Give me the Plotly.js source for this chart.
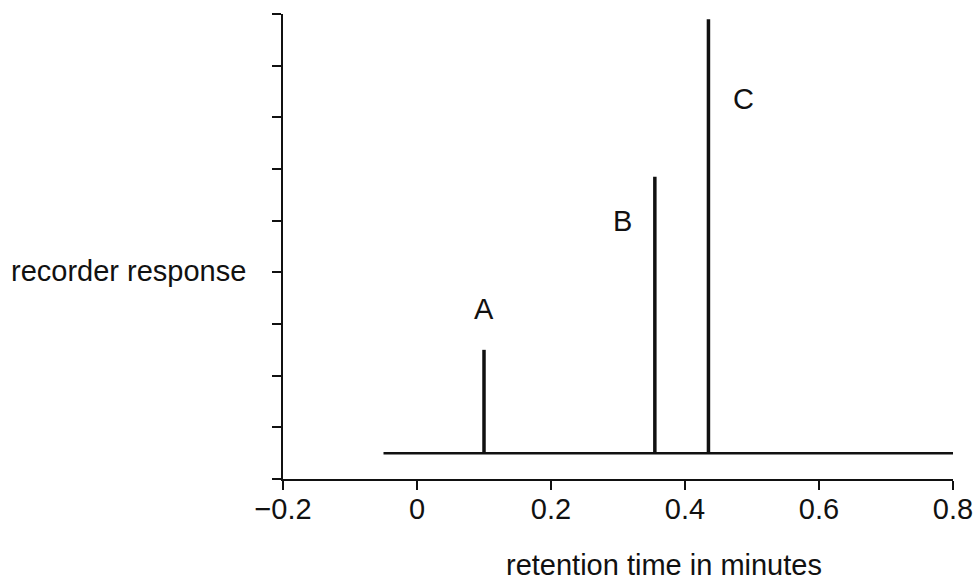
<!DOCTYPE html>
<html>
<head>
<meta charset="utf-8">
<script src="https://cdn.plot.ly/plotly-3.0.1.min.js"></script>
<style>html,body{margin:0;padding:0;background:#fff;}#chart{width:979px;height:581px;}</style>
</head>
<body>
<div id="chart"></div>
<script>
// Data
const peakLabels = ["A", "B", "C"];
const peakTimes = [0.1, 0.355, 0.435];
const peakHeights = [2.5, 5.85, 8.9];
const baselineLevel = 0.5;
const baselineStart = -0.05;
const baselineEnd = 0.8;
const labelTimes = [0.1, 0.307, 0.487];
const labelHeights = [3.3, 5.0, 7.35];
const xTickVals = [-0.2, 0, 0.2, 0.4, 0.6, 0.8];
const xTickText = ["\u22120.2", "0", "0.2", "0.4", "0.6", "0.8"];
const xTitle = "retention time in minutes";
const yTitle = "recorder response";

const FONT = "Liberation Sans, Arial, sans-serif";
const FS = 29;
const traces = [];
traces.push({
  x: [baselineStart, baselineEnd],
  y: [baselineLevel, baselineLevel],
  mode: "lines", line: {color: "#111", width: 2.5},
  hoverinfo: "skip", showlegend: false
});
peakTimes.forEach((t, i) => {
  traces.push({
    x: [t, t], y: [baselineLevel, peakHeights[i]],
    mode: "lines", line: {color: "#111", width: 3.5},
    name: peakLabels[i], showlegend: false
  });
});

const annotations = peakLabels.map((lab, i) => ({
  x: labelTimes[i], y: labelHeights[i], xref: "x", yref: "y",
  text: lab, showarrow: false, font: {family: FONT, size: FS, color: "#111"}
}));
annotations.push({
  xref: "paper", yref: "paper", x: -0.052, y: 0.447, xanchor: "right", yanchor: "middle",
  text: yTitle, showarrow: false, font: {family: FONT, size: FS, color: "#111"}
});
annotations.push({
  xref: "paper", yref: "paper", x: 0.569, y: -0.185, xanchor: "center", yanchor: "middle",
  text: xTitle, showarrow: false, font: {family: FONT, size: FS, color: "#111"}
});

const layout = {
  width: 979, height: 581,
  margin: {l: 283, r: 26, t: 14, b: 102},
  paper_bgcolor: "#fff", plot_bgcolor: "#fff",
  font: {family: FONT, size: FS, color: "#111"},
  xaxis: {
    range: [-0.2, 0.8], tickvals: xTickVals, ticktext: xTickText,
    ticks: "outside", ticklen: 9, tickwidth: 2, tickcolor: "#111",
    showline: true, linewidth: 2, linecolor: "#111",
    showgrid: false, zeroline: false, ticklabelstandoff: -6,
    tickfont: {family: FONT, size: FS, color: "#111"}
  },
  yaxis: {
    range: [0, 9], dtick: 1, tick0: 0,
    ticks: "outside", ticklen: 9, tickwidth: 2, tickcolor: "#111",
    showline: true, linewidth: 2, linecolor: "#111",
    showgrid: false, zeroline: false, showticklabels: false
  },
  annotations: annotations
};

Plotly.newPlot("chart", traces, layout, {displayModeBar: false, staticPlot: true});
</script>
</body>
</html>
